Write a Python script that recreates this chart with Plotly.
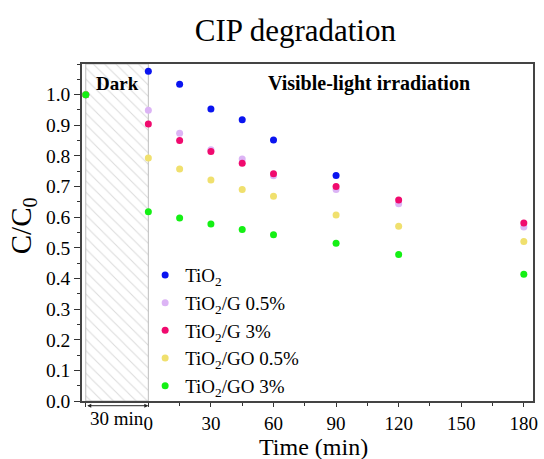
import plotly.graph_objects as go

time = [-30, 0, 15, 30, 45, 60, 90, 120, 180]
tio2_time = [-30, 0, 15, 30, 45, 60, 90]
tio2 = [1.0, 1.076, 1.034, 0.953, 0.918, 0.852, 0.736]
tio2_g05 = [1.0, 0.949, 0.874, 0.820, 0.790, 0.735, 0.690, 0.644, 0.568]
tio2_g3 = [1.0, 0.904, 0.850, 0.814, 0.776, 0.742, 0.700, 0.656, 0.581]
tio2_go05 = [1.0, 0.793, 0.757, 0.721, 0.690, 0.668, 0.607, 0.570, 0.521]
tio2_go3 = [1.0, 0.618, 0.597, 0.578, 0.560, 0.543, 0.515, 0.478, 0.414]

names = ["TiO<sub>2</sub>", "TiO<sub>2</sub>/G 0.5%", "TiO<sub>2</sub>/G 3%",
         "TiO<sub>2</sub>/GO 0.5%", "TiO<sub>2</sub>/GO 3%"]
colors = ["#0a14f0", "#dcb4f5", "#f00a6e", "#f0e06e", "#14f014"]

x_ticks = [-30, 0, 30, 60, 90, 120, 150, 180]
x_ticklabels = ["", "0", "30", "60", "90", "120", "150", "180"]
y_ticks = [i / 10 for i in range(11)]
y_ticklabels = [f"{v:.1f}" for v in y_ticks]

dark_start, dark_end = -30, 0
y_top = 1.1

FONT = "Liberation Serif, Times New Roman, serif"

fig = go.Figure()

# dark period hatched band
fig.add_trace(go.Scatter(
    x=[dark_start, dark_end, dark_end, dark_start, dark_start],
    y=[0, 0, y_top, y_top, 0],
    mode="lines", fill="toself",
    line=dict(color="#bdbdbd", width=1),
    fillcolor="rgba(0,0,0,0)",
    fillpattern=dict(shape="\\", fgcolor="#b8b8b8", bgcolor="white", size=8, solidity=0.13),
    showlegend=False, hoverinfo="skip"))

series = [(tio2_time, tio2), (time, tio2_g05), (time, tio2_g3), (time, tio2_go05), (time, tio2_go3)]
for (xs, ys), n, c in zip(series, names, colors):
    fig.add_trace(go.Scatter(x=xs, y=ys, mode="markers", name=n,
                             marker=dict(color=c, size=7)))

fig.update_layout(
    width=544, height=459,
    margin=dict(l=82, r=6, t=64, b=58),
    paper_bgcolor="white", plot_bgcolor="white",
    font=dict(family=FONT, size=19, color="black"),
    title=dict(text="CIP degradation", x=0.543, xanchor="center", y=0.935, yanchor="middle",
               font=dict(family=FONT, size=31, color="black")),
    showlegend=True,
    legend=dict(x=0.14, y=0.43, xanchor="left", yanchor="top",
                bgcolor="rgba(0,0,0,0)", font=dict(family=FONT, size=19),
                itemwidth=30),
)

fig.update_xaxes(
    range=[-31.8, 184.4],
    tickvals=x_ticks, ticktext=x_ticklabels,
    ticks="outside", ticklen=4, tickwidth=1.2, tickcolor="#333",
    minor=dict(tickvals=[15, 45, 75, 105, 135, 165], ticks="outside", ticklen=3, tickcolor="#333"),
    showline=True, linecolor="#444", linewidth=1.5, mirror=True,
    showgrid=False, zeroline=False,
    tickfont=dict(size=19),
)
fig.update_yaxes(
    range=[0, y_top],
    tickvals=y_ticks, ticktext=y_ticklabels,
    ticks="outside", ticklen=6, tickwidth=1.2, tickcolor="#333",
    minor=dict(dtick=0.05, tick0=0.05, ticks="outside", ticklen=3, tickcolor="#333"),
    showline=True, linecolor="#444", linewidth=1.5, mirror=True,
    showgrid=False, zeroline=False,
    tickfont=dict(size=19.5),
)

# axis titles
fig.add_annotation(x=0.513, y=-0.137, xref="paper", yref="paper", text="Time (min)",
                   showarrow=False, font=dict(size=24), yanchor="middle")
fig.add_annotation(x=-0.132, y=0.52, xref="paper", yref="paper", text="C/C<sub>0</sub>",
                   showarrow=False, font=dict(size=29), textangle=-90,
                   xanchor="center", yanchor="middle")

fig.add_annotation(x=-15, y=1.036, xref="x", yref="y", text="<b>Dark</b>",
                   showarrow=False, font=dict(size=19))
fig.add_annotation(x=106, y=1.036, xref="x", yref="y", text="<b>Visible-light irradiation</b>",
                   showarrow=False, font=dict(size=20))
fig.add_annotation(x=-15, y=-0.052, xref="x", yref="paper", text="30 min",
                   showarrow=False, font=dict(size=19), yanchor="middle")
# double-headed arrow marking the 30 min dark period
fig.add_annotation(x=dark_end, y=-0.014, ax=dark_start, ay=0,
                   xref="x", yref="paper", axref="x", ayref="pixel",
                   text="", showarrow=True, arrowhead=2, arrowside="end+start",
                   arrowsize=0.8, arrowwidth=1, arrowcolor="#222")

fig.write_html("out.html", config={"displayModeBar": False},
               post_script="document.body.style.margin='0';document.body.style.overflow='hidden';")
